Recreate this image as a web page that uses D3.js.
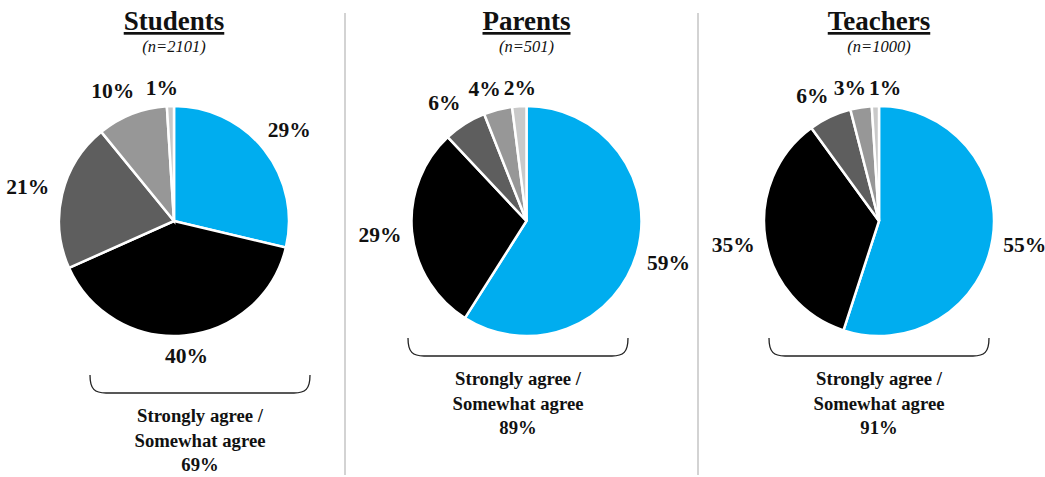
<!DOCTYPE html>
<html>
<head>
<meta charset="utf-8">
<script src="https://cdn.jsdelivr.net/npm/d3@7"></script>
<style>
  body { margin: 0; background: #fff; }
  text { font-family: "Liberation Serif", "Times New Roman", serif; fill: #111; }
</style>
</head>
<body>
<script>
const width = 1045
const height = 477

// data
const groups = ['Students', 'Parents', 'Teachers']
const sampleSizes = ['(n=2101)', '(n=501)', '(n=1000)']
const categories = ['Strongly agree', 'Somewhat agree', 'Somewhat disagree', 'Strongly disagree', "Don't know"]
const studentValues = [29, 40, 21, 10, 1]
const parentValues = [59, 29, 6, 4, 2]
const teacherValues = [55, 35, 6, 3, 1]
const agreeTotals = ['69%', '89%', '91%']

const seriesValues = [studentValues, parentValues, teacherValues]

const colors = d3.scaleOrdinal()
    .domain(categories)
    .range(['#00adef', '#000000', '#5e5e5e', '#979797', '#c9c9c9'])

const xCenter = d3.scalePoint()
    .domain(groups)
    .range([174, 879])

const radius = 115
const cy = 221

const svg = d3.select('body')
    .append('svg')
    .attr('width', width)
    .attr('height', height)

// dividers
svg.selectAll('line.divider')
    .data([345, 698])
    .enter()
    .append('line')
    .attr('class', 'divider')
    .attr('x1', d => d).attr('x2', d => d)
    .attr('y1', 13).attr('y2', 475)
    .attr('stroke', '#c4c4c4')
    .attr('stroke-width', 1.5)

const pie = d3.pie().sort(null)
const arc = d3.arc().innerRadius(0).outerRadius(radius)

groups.forEach((g, i) => {
    const cx = xCenter(g)
    const values = seriesValues[i]
    const gEl = svg.append('g').attr('transform', `translate(${cx},${cy})`)

    const arcs = pie(values)

    gEl.selectAll('path.slice')
        .data(arcs)
        .enter()
        .append('path')
        .attr('class', 'slice')
        .attr('d', arc)
        .attr('fill', (d, j) => colors(categories[j]))
        .attr('stroke', '#fff')
        .attr('stroke-width', 2.5)

    // outside labels, box edge kept a fixed gap from the rim
    const labels = gEl.selectAll('text.pct')
        .data(arcs)
        .enter()
        .append('text')
        .attr('class', 'pct')
        .attr('text-anchor', 'middle')
        .attr('dy', '0.35em')
        .style('font-size', '21.5px')
        .style('font-weight', 'bold')
        .text(d => d.data + '%')

    const boxes = []
    labels.each(function (d) {
        const a = (d.startAngle + d.endAngle) / 2
        const sa = Math.sin(a), ca = Math.cos(a)
        const hw = this.getComputedTextLength() / 2
        const hh = 8
        const r = radius + 10 + hw * Math.abs(sa) + hh * Math.abs(ca)
        // upper-left labels sit a little further left
        const nudge = (sa < 0 && ca > 0) ? -hw * 0.5 * ca : 0
        boxes.push({ el: this, x: sa * r + nudge, y: -ca * r, hw, hh, s: Math.abs(sa) })
    })
    // push overlapping labels apart sideways; the one nearer vertical moves
    for (let it = 0; it < 30; it++) {
        for (let m = 0; m < boxes.length; m++) {
            for (let n = m + 1; n < boxes.length; n++) {
                const A = boxes[m], B = boxes[n]
                const need = A.hw + B.hw + 3
                const dx = B.x - A.x
                if (Math.abs(A.y - B.y) < A.hh + B.hh && Math.abs(dx) < need) {
                    const push = need - Math.abs(dx)
                    const s = dx >= 0 ? 1 : -1
                    if (B.s < A.s) B.x += s * push
                    else A.x -= s * push
                }
            }
        }
    }
    boxes.forEach(b => d3.select(b.el).attr('transform', `translate(${b.x},${b.y})`))

    // title
    svg.append('text')
        .attr('x', cx).attr('y', 30)
        .attr('text-anchor', 'middle')
        .style('font-size', '27px')
        .style('font-weight', 'bold')
        .style('text-decoration', 'underline')
        .text(g)

    svg.append('text')
        .attr('x', cx).attr('y', 52)
        .attr('text-anchor', 'middle')
        .style('font-size', '16.5px')
        .style('font-style', 'italic')
        .attr('fill', '#333')
        .text(sampleSizes[i])

    // brace under the agree slices
    const bx = i === 0 ? 200 : (i === 1 ? 518 : cx)
    const by = i === 0 ? 375 : 338
    const bw = 110
    const bh = 18
    const rr = 16
    const p = d3.path()
    p.moveTo(bx - bw, by)
    p.bezierCurveTo(bx - bw, by + bh * 0.8, bx - bw + rr * 0.3, by + bh, bx - bw + rr, by + bh)
    p.lineTo(bx + bw - rr, by + bh)
    p.bezierCurveTo(bx + bw - rr * 0.3, by + bh, bx + bw, by + bh * 0.8, bx + bw, by)
    svg.append('path')
        .attr('d', p.toString())
        .attr('fill', 'none')
        .attr('stroke', '#222')
        .attr('stroke-width', 1.3)

    const lines = ['Strongly agree /', 'Somewhat agree', agreeTotals[i]]
    svg.append('g')
        .selectAll('text')
        .data(lines)
        .enter()
        .append('text')
        .attr('x', bx)
        .attr('y', (d, k) => by + 47 + k * 24.5)
        .attr('text-anchor', 'middle')
        .style('font-size', '18.7px')
        .style('font-weight', 'bold')
        .text(d => d)
})
</script>
</body>
</html>
